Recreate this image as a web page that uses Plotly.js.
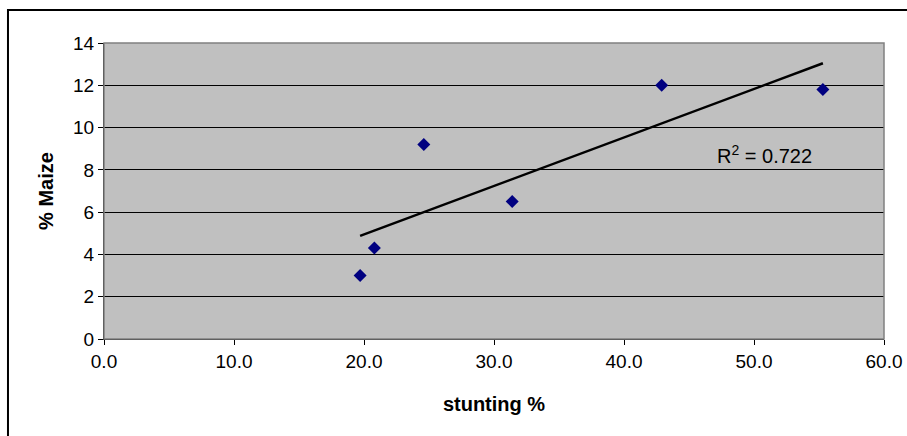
<!DOCTYPE html>
<html>
<head>
<meta charset="utf-8">
<script src="https://cdn.plot.ly/plotly-3.0.1.min.js"></script>
<style>html,body{margin:0;padding:0;background:#fff;}#chart{width:907px;height:436px;}</style>
</head>
<body>
<div id="chart"></div>
<script>
const stunting = [19.7, 20.8, 24.6, 31.4, 42.9, 55.3];
const maize = [3.0, 4.3, 9.2, 6.5, 12.0, 11.8];
const xTicks = [0, 10, 20, 30, 40, 50, 60];
const xTickLabels = ['0.0', '10.0', '20.0', '30.0', '40.0', '50.0', '60.0'];
const yTicks = [0, 2, 4, 6, 8, 10, 12, 14];
const r2Label = 'R<sup>2</sup> = 0.722';

// least-squares trendline computed from the data
const n = stunting.length;
const mx = stunting.reduce((a, b) => a + b, 0) / n;
const my = maize.reduce((a, b) => a + b, 0) / n;
let sxy = 0, sxx = 0;
for (let i = 0; i < n; i++) { sxy += (stunting[i] - mx) * (maize[i] - my); sxx += (stunting[i] - mx) ** 2; }
const slope = sxy / sxx, icpt = my - slope * mx;
const xmin = Math.min(...stunting), xmax = Math.max(...stunting);
const trendX = [xmin, xmax];
const trendY = trendX.map(v => icpt + slope * v);

const font = {family: 'Liberation Sans, Arial, sans-serif', color: '#000'};
const data = [
  {x: stunting, y: maize, type: 'scatter', mode: 'markers',
   marker: {symbol: 'diamond', size: 10, color: '#000080'}, showlegend: false, hoverinfo: 'x+y'},
  {x: trendX, y: trendY, type: 'scatter', mode: 'lines',
   line: {color: '#000', width: 2.5}, showlegend: false, hoverinfo: 'skip'}
];
const layout = {
  width: 907, height: 436,
  margin: {l: 104, r: 23, t: 43, b: 97},
  paper_bgcolor: '#fff', plot_bgcolor: '#C0C0C0',
  font: Object.assign({size: 20}, font),
  xaxis: {range: [0, 60], tickvals: xTicks, ticktext: xTickLabels,
    showgrid: false, zeroline: false, showline: true, linecolor: '#000', linewidth: 1,
    ticks: 'outside', ticklen: 5, tickcolor: '#000',
    tickfont: Object.assign({size: 19}, font),
    title: {text: '<b>stunting %</b>', font: Object.assign({size: 20}, font), standoff: 26}},
  yaxis: {range: [0, 14], tickvals: yTicks,
    showgrid: true, gridcolor: '#000', gridwidth: 1, zeroline: false,
    showline: true, linecolor: '#000', linewidth: 1,
    ticks: 'outside', ticklen: 5, tickcolor: '#000',
    tickfont: Object.assign({size: 19}, font),
    title: {text: '<b>% Maize</b>', font: Object.assign({size: 20}, font), standoff: 14}},
  shapes: [
    {type: 'rect', xref: 'paper', yref: 'paper', x0: 0, x1: 1, y0: 0, y1: 1,
     line: {color: '#808080', width: 1.5}, fillcolor: 'rgba(0,0,0,0)', layer: 'above'},
    {type: 'rect', xref: 'paper', yref: 'paper', x0: -0.1231, x1: 1.2, y0: -0.5, y1: 1.1115,
     line: {color: '#000', width: 2}, fillcolor: 'rgba(0,0,0,0)'}
  ],
  annotations: [
    {x: 50.8, y: 8.75, xref: 'x', yref: 'y', text: r2Label, showarrow: false,
     font: Object.assign({size: 20}, font)}
  ]
};
Plotly.newPlot('chart', data, layout, {displayModeBar: false, staticPlot: true});
</script>
</body>
</html>
